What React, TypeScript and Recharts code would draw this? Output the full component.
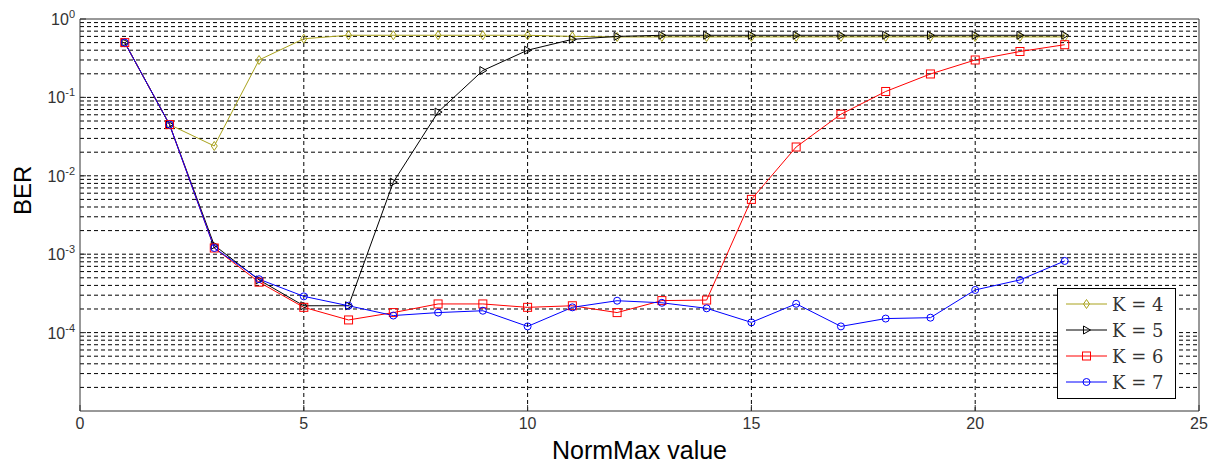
import {
  LineChart,
  Line,
  XAxis,
  YAxis,
  ReferenceLine,
} from 'recharts';

const normMax = [1, 2, 3, 4, 5, 6, 7, 8, 9, 10, 11, 12, 13, 14, 15, 16, 17, 18, 19, 20, 21, 22];

const berK4 = [0.5, 0.045, 0.024, 0.3, 0.56, 0.62, 0.62, 0.62, 0.62, 0.62, 0.6, 0.59, 0.59, 0.59, 0.59, 0.59, 0.59, 0.59, 0.59, 0.59, 0.59, 0.59];
const berK5 = [0.5, 0.045, 0.0013, 0.00047, 0.00022, 0.00022, 0.0083, 0.065, 0.22, 0.4, 0.55, 0.6, 0.62, 0.62, 0.62, 0.62, 0.62, 0.62, 0.62, 0.62, 0.62, 0.62];
const berK6 = [0.5, 0.045, 0.0012, 0.00044, 0.00021, 0.000145, 0.00018, 0.000232, 0.000232, 0.00021, 0.00022, 0.00018, 0.000256, 0.00026, 0.005, 0.0233, 0.061, 0.119, 0.199, 0.3, 0.385, 0.47];
const berK7 = [0.5, 0.045, 0.0012, 0.00048, 0.00029, 0.00022, 0.000165, 0.00018, 0.00019, 0.00012, 0.00021, 0.000255, 0.00024, 0.000204, 0.000135, 0.000233, 0.00012, 0.000151, 0.000155, 0.00035, 0.00047, 0.00082];

const xTicks = [0, 5, 10, 15, 20, 25];
const yTicks = [1e-4, 1e-3, 1e-2, 1e-1, 1];
const yExponents = ['-4', '-3', '-2', '-1', '0'];
const legendLabels = ['K = 4', 'K = 5', 'K = 6', 'K = 7'];

const OLIVE = '#a9a21c';
const FONT = '"Liberation Sans", Arial, sans-serif';

// every 1..9 x 10^k between 1e-5 and 1 (log grid, major + minor)
const gridValues: number[] = [];
for (let e = -5; e < 0; e++) {
  for (let m = 1; m < 10; m++) {
    if (e === -5 && m === 1) continue;
    gridValues.push(Number((m * Math.pow(10, e)).toPrecision(3)));
  }
}

const data = normMax.map((x, i) => ({
  x,
  k4: berK4[i],
  k5: berK5[i],
  k6: berK6[i],
  k7: berK7[i],
}));

const diamondPath = (cx: number, cy: number) =>
  `M${cx},${cy - 4.5} L${cx + 3},${cy} L${cx},${cy + 4.5} L${cx - 3},${cy} Z`;
const trianglePath = (cx: number, cy: number) =>
  `M${cx - 3},${cy - 4} L${cx + 4},${cy} L${cx - 3},${cy + 4} Z`;

const Diamond = (p: any) => {
  const { cx, cy } = p;
  if (cx == null || cy == null) return <g key={p.key} />;
  return <path key={p.key} d={diamondPath(cx, cy)} fill="none" stroke={OLIVE} strokeWidth={1} />;
};

const Triangle = (p: any) => {
  const { cx, cy } = p;
  if (cx == null || cy == null) return <g key={p.key} />;
  return <path key={p.key} d={trianglePath(cx, cy)} fill="none" stroke="#000" strokeWidth={1} />;
};

const Square = (p: any) => {
  const { cx, cy } = p;
  if (cx == null || cy == null) return <g key={p.key} />;
  return (
    <rect key={p.key} x={cx - 4} y={cy - 4} width={8} height={8} fill="none" stroke="#ff0000" strokeWidth={1} />
  );
};

const Circle = (p: any) => {
  const { cx, cy } = p;
  if (cx == null || cy == null) return <g key={p.key} />;
  return <circle key={p.key} cx={cx} cy={cy} r={3.5} fill="none" stroke="#0000ff" strokeWidth={1} />;
};

const YTick = (props: any) => {
  const { x, y, index } = props;
  return (
    <text x={x} y={y + 6} textAnchor="end" fontFamily={FONT} fill="#333" fontSize={16}>
      10
      <tspan dy={-7} fontSize={11}>
        {yExponents[index] ?? ''}
      </tspan>
    </text>
  );
};

const legendItems = [
  { label: legendLabels[0], color: OLIVE, marker: 'diamond' },
  { label: legendLabels[1], color: '#000', marker: 'triangle' },
  { label: legendLabels[2], color: '#ff0000', marker: 'square' },
  { label: legendLabels[3], color: '#0000ff', marker: 'circle' },
];

const LegendMarker = ({ marker, color }: { marker: string; color: string }) => {
  const cx = 28.5;
  const cy = 13;
  if (marker === 'diamond') return <path d={diamondPath(cx, cy)} fill="none" stroke={color} />;
  if (marker === 'triangle') return <path d={trianglePath(cx, cy)} fill="none" stroke={color} />;
  if (marker === 'square') return <rect x={cx - 4} y={cy - 4} width={8} height={8} fill="none" stroke={color} />;
  return <circle cx={cx} cy={cy} r={3.5} fill="none" stroke={color} />;
};

export default function App() {
  return (
    <div style={{ position: 'absolute', left: 0, top: 0, width: 1220, height: 463, background: '#fff' }}>
      <LineChart
        width={1220}
        height={463}
        data={data}
        margin={{ top: 19, right: 21, bottom: 0, left: 0 }}
      >
        <XAxis
          dataKey="x"
          type="number"
          domain={[0, 25]}
          ticks={xTicks}
          height={52}
          tickSize={-6}
          tickMargin={13}
          tickLine={{ stroke: '#333' }}
          axisLine={{ stroke: '#333', strokeWidth: 1 }}
          tick={{ fill: '#333', fontSize: 16, fontFamily: FONT }}
          label={{
            value: 'NormMax value',
            position: 'insideBottom',
            offset: 4,
            fill: '#000',
            fontSize: 25,
            fontFamily: FONT,
          }}
        />
        <YAxis
          scale="log"
          domain={[1e-5, 1]}
          ticks={yTicks}
          allowDataOverflow
          width={80}
          tickSize={-6}
          tickMargin={11}
          tickLine={{ stroke: '#333' }}
          axisLine={{ stroke: '#333', strokeWidth: 1 }}
          tick={<YTick />}
          label={{
            value: 'BER',
            angle: -90,
            position: 'insideLeft',
            offset: 22,
            fill: '#000',
            fontSize: 24,
            fontFamily: FONT,
          }}
        />
        {gridValues.map((v) => (
          <ReferenceLine key={`g${v}`} y={v} stroke="#000" strokeDasharray="4 3" strokeWidth={1} />
        ))}
        {[5, 10, 15, 20].map((v) => (
          <ReferenceLine key={`v${v}`} x={v} stroke="#000" strokeDasharray="4 3" strokeWidth={1} />
        ))}
        <ReferenceLine y={1} stroke="#333" strokeWidth={1} />
        <ReferenceLine x={25} stroke="#333" strokeWidth={1} />
        <Line dataKey="k4" stroke={OLIVE} strokeWidth={1} dot={<Diamond />} isAnimationActive={false} />
        <Line dataKey="k5" stroke="#000" strokeWidth={1} dot={<Triangle />} isAnimationActive={false} />
        <Line dataKey="k6" stroke="#ff0000" strokeWidth={1} dot={<Square />} isAnimationActive={false} />
        <Line dataKey="k7" stroke="#0000ff" strokeWidth={1} dot={<Circle />} isAnimationActive={false} />
      </LineChart>
      <div
        style={{
          position: 'absolute',
          left: 1057,
          top: 288,
          width: 117,
          height: 107,
          border: '1px solid #000',
          background: '#fff',
          boxSizing: 'content-box',
          paddingTop: 2,
        }}
      >
        {legendItems.map((it) => (
          <div key={it.label} style={{ display: 'flex', alignItems: 'center', height: 26 }}>
            <svg width={54} height={26} style={{ display: 'block', flex: 'none' }}>
              <line x1={8} x2={49} y1={13} y2={13} stroke={it.color} strokeWidth={1} />
              <LegendMarker marker={it.marker} color={it.color} />
            </svg>
            <span
              style={{
                fontFamily: '"DejaVu Serif", "Liberation Serif", serif',
                fontSize: 18,
                color: '#333',
                whiteSpace: 'nowrap',
              }}
            >
              {it.label}
            </span>
          </div>
        ))}
      </div>
    </div>
  );
}
